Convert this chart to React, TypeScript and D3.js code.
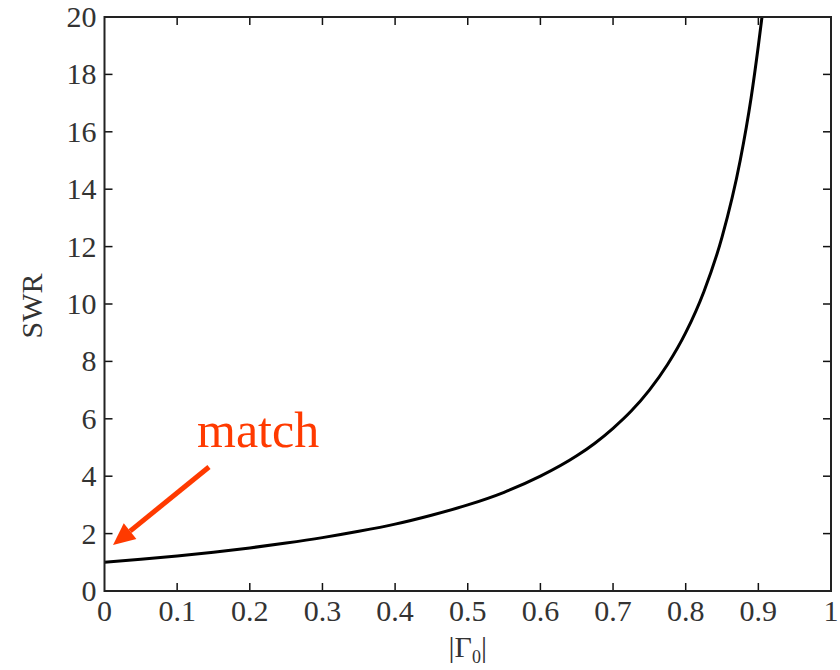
import React, { useEffect, useRef } from 'react';
import * as d3 from 'd3';

// |Gamma0| values and the SWR
const gammaValues = [0, 0.05, 0.1, 0.15, 0.2, 0.25, 0.3, 0.35, 0.4, 0.45, 0.5, 0.55, 0.6, 0.65, 0.675, 0.7, 0.725, 0.75, 0.775, 0.8, 0.825, 0.85, 0.875, 0.89, 0.9, 0.905];
const swrValues = [1, 1.105, 1.22, 1.35, 1.5, 1.67, 1.86, 2.08, 2.33, 2.64, 3.0, 3.44, 4.0, 4.71, 5.15, 5.67, 6.27, 7.0, 7.89, 9.0, 10.43, 12.33, 15.0, 17.18, 19.0, 20.0];

const xTicks = [0, 0.1, 0.2, 0.3, 0.4, 0.5, 0.6, 0.7, 0.8, 0.9, 1];
const yTicks = [0, 2, 4, 6, 8, 10, 12, 14, 16, 18, 20];

const annotation = 'match';

export default function App() {
  const ref = useRef<SVGSVGElement>(null);

  useEffect(() => {
    if (!ref.current) return;
    const svg = d3.select(ref.current);
    svg.selectAll('*').remove();

    const left = 104.5, right = 831, top = 17, bottom = 591;
    const x = d3.scaleLinear().domain([0, 1]).range([left, right]);
    const y = d3.scaleLinear().domain([0, 20]).range([bottom, top]);
    const font = '"Liberation Serif", "Times New Roman", serif';
    const tickLen = 8;

    // curve
    const pts = gammaValues.map((g, i) => [g, swrValues[i]] as [number, number]);
    const line = d3.line<[number, number]>()
      .x(d => x(d[0]))
      .y(d => y(d[1]))
      .curve(d3.curveMonotoneX);
    svg.append('path').datum(pts)
      .attr('fill', 'none').attr('stroke', '#000').attr('stroke-width', 3)
      .attr('d', line);

    // ticks (inward, on all four sides)
    const tg = svg.append('g').attr('stroke', '#111').attr('stroke-width', 1.5);
    xTicks.slice(1, -1).forEach(t => {
      tg.append('line').attr('x1', x(t)).attr('x2', x(t)).attr('y1', bottom).attr('y2', bottom - tickLen);
      tg.append('line').attr('x1', x(t)).attr('x2', x(t)).attr('y1', top).attr('y2', top + tickLen);
    });
    yTicks.slice(1, -1).forEach(t => {
      tg.append('line').attr('y1', y(t)).attr('y2', y(t)).attr('x1', left).attr('x2', left + tickLen);
      tg.append('line').attr('y1', y(t)).attr('y2', y(t)).attr('x1', right).attr('x2', right - tickLen);
    });

    // box
    svg.append('rect')
      .attr('x', left).attr('y', top).attr('width', right - left).attr('height', bottom - top)
      .attr('fill', 'none').attr('stroke', '#222').attr('stroke-width', 2);

    // tick labels
    svg.append('g').selectAll('text').data(xTicks).join('text')
      .attr('x', d => x(d)).attr('y', bottom + 30)
      .attr('text-anchor', 'middle')
      .attr('font-family', font).attr('font-size', 30).attr('fill', '#333')
      .text(d => d3.format('~g')(d));
    svg.append('g').selectAll('text').data(yTicks).join('text')
      .attr('x', left - 8).attr('y', d => y(d) + 10)
      .attr('text-anchor', 'end')
      .attr('font-family', font).attr('font-size', 30).attr('fill', '#333')
      .text(d => String(d));

    // axis titles
    svg.append('text')
      .attr('transform', `translate(42, ${y(10) + 2}) rotate(-90)`)
      .attr('text-anchor', 'middle')
      .attr('font-family', font).attr('font-size', 30).attr('fill', '#333')
      .text('SWR');
    const xt = svg.append('text')
      .attr('x', x(0.5)).attr('y', 657)
      .attr('text-anchor', 'middle')
      .attr('font-family', font).attr('font-size', 30).attr('fill', '#333');
    xt.append('tspan').text('|Γ');
    xt.append('tspan').attr('font-size', 18).attr('dy', 6).text('0');
    xt.append('tspan').attr('dy', -6).text('|');

    // annotation arrow
    const red = '#ff3a00';
    const ax0 = 209, ay0 = 467, ax1 = 113, ay1 = 545;
    const ang = Math.atan2(ay1 - ay0, ax1 - ax0);
    const headLen = 22, headW = 10;
    const bx = ax1 - headLen * Math.cos(ang), by = ay1 - headLen * Math.sin(ang);
    svg.append('line')
      .attr('x1', ax0).attr('y1', ay0).attr('x2', bx).attr('y2', by)
      .attr('stroke', red).attr('stroke-width', 5);
    const px = -Math.sin(ang), py = Math.cos(ang);
    svg.append('path')
      .attr('d', `M${ax1},${ay1} L${bx + px * headW},${by + py * headW} L${bx - px * headW},${by - py * headW} Z`)
      .attr('fill', red);
    svg.append('text')
      .attr('x', 197).attr('y', 447)
      .attr('font-family', font).attr('font-size', 50).attr('fill', red)
      .text(annotation);
  }, []);

  return (
    <svg ref={ref} width={840} height={670}
      style={{ position: 'absolute', left: 0, top: 0, background: '#fff' }} />
  );
}
